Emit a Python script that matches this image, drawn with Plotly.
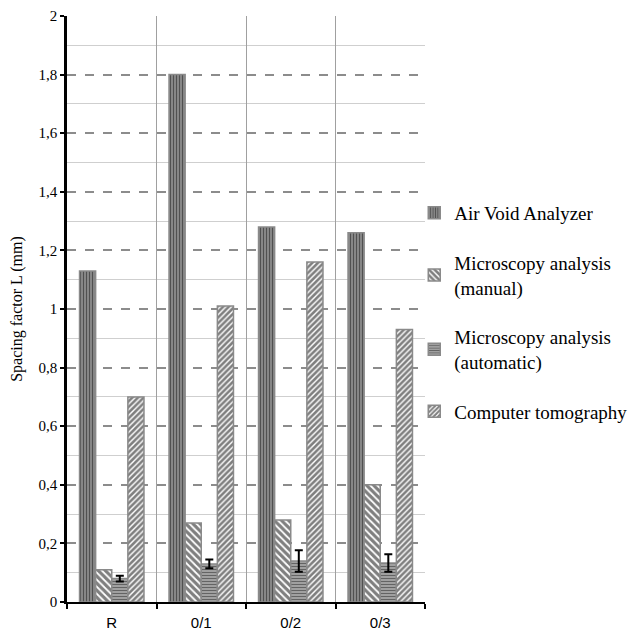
import plotly.graph_objects as go

categories = ["R", "0/1", "0/2", "0/3"]
ava = [1.13, 1.80, 1.28, 1.26]
micro_manual = [0.11, 0.27, 0.28, 0.40]
micro_auto = [0.08, 0.13, 0.14, 0.133]
micro_auto_err = [0.01, 0.015, 0.037, 0.03]
ct = [0.70, 1.01, 1.16, 0.93]

names = ["Air Void Analyzer", "Microscopy analysis<br>(manual)",
         "Microscopy analysis<br>(automatic)", "Computer tomography"]
shapes = ["|", "\\", "-", "/"]
sizes = [3, 5, 3, 4]
solid = [0.55, 0.65, 0.6, 0.65]
bgs = ["#a0a0a0", "white", "#c8c8c8", "white"]
series = [ava, micro_manual, micro_auto, ct]

SERIF = "Liberation Serif, Times New Roman, serif"

fig = go.Figure()
for i, (nm, sh, vals) in enumerate(zip(names, shapes, series)):
    kw = {}
    if i == 2:
        kw["error_y"] = dict(type="data", array=micro_auto_err, color="black",
                             thickness=2, width=4)
    fig.add_trace(go.Bar(
        x=categories, y=vals, name=nm, legendgroup=str(i),
        marker=dict(color="white", line=dict(color="#8a8a8a", width=1.5),
                    pattern=dict(shape=sh, fgcolor="black", bgcolor=bgs[i],
                                 size=sizes[i], solidity=solid[i])),
        **kw))

fig.update_layout(
    width=640, height=632,
    margin=dict(l=59, r=223, t=8, b=38),
    plot_bgcolor="white", paper_bgcolor="white",
    barmode="group", bargap=0.28, bargroupgap=0,
    separators=", ",
    font=dict(family=SERIF, color="black"),
    legend=dict(x=0.97, y=0.494, yanchor="middle", xanchor="left",
                bgcolor="rgba(0,0,0,0)",
                font=dict(family=SERIF, size=19, color="black"),
                tracegroupgap=22, itemwidth=30),
    showlegend=True,
)
fig.update_xaxes(
    type="category", tickson="boundaries", showgrid=True, gridcolor="#a0a0a0",
    gridwidth=1, showline=True, linecolor="black", linewidth=2,
    ticks="outside", ticklen=5, tickcolor="black", tickwidth=1.5,
    tickfont=dict(family="Liberation Sans", size=15, color="black"),
    ticklabelstandoff=6,
    automargin=False,
)
fig.update_yaxes(
    range=[0, 2], dtick=0.2, showgrid=True, gridcolor="#8c8c8c", gridwidth=1.5,
    griddash="dash", showline=True, linecolor="black", linewidth=2.5,
    ticks="outside", ticklen=4, tickcolor="black", tickwidth=2,
    tickfont=dict(family=SERIF, size=15, color="black"),
    title=dict(text="Spacing factor L (mm)", font=dict(family=SERIF, size=16, color="black")),
    minor=dict(dtick=0.1, showgrid=True, gridcolor="#cfcfcf", gridwidth=1, griddash="solid"),
    zeroline=False, automargin=False,
)

fig.write_html("out.html")
